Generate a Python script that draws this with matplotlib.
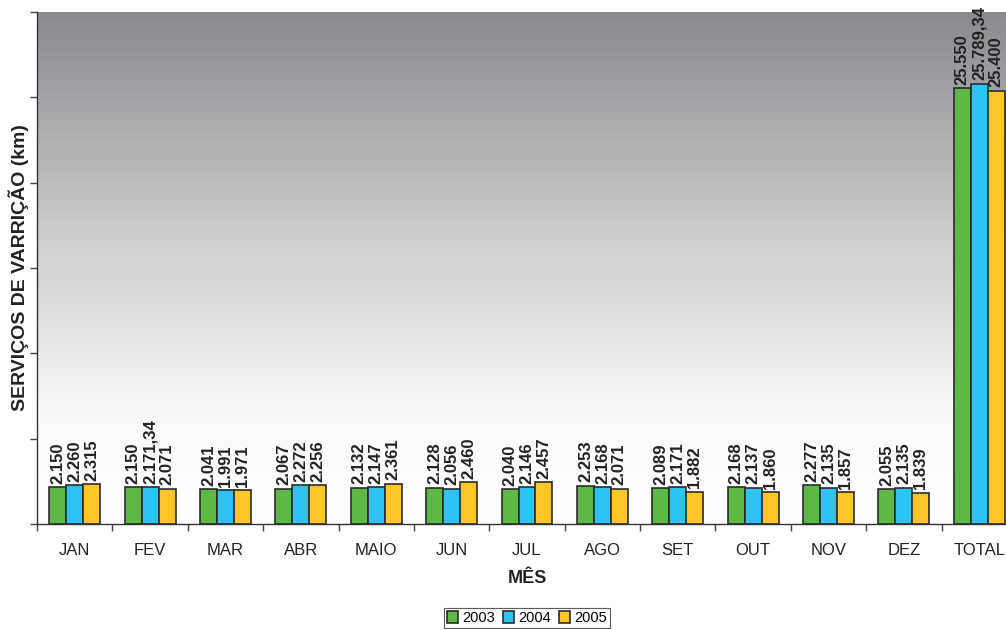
import numpy as np
import matplotlib.pyplot as plt
from matplotlib.colors import LinearSegmentedColormap

plt.rcParams['font.family'] = ['Liberation Sans', 'DejaVu Sans']

# Data (km)
meses = ['JAN', 'FEV', 'MAR', 'ABR', 'MAIO', 'JUN', 'JUL', 'AGO', 'SET', 'OUT', 'NOV', 'DEZ', 'TOTAL']
v2003 = [2150, 2150, 2041, 2067, 2132, 2128, 2040, 2253, 2089, 2168, 2277, 2055, 25550]
v2004 = [2260, 2171.34, 1991, 2272, 2147, 2056, 2146, 2168, 2171, 2137, 2135, 2135, 25789.34]
v2005 = [2315, 2071, 1971, 2256, 2361, 2460, 2457, 2071, 1882, 1860, 1857, 1839, 25400]
anos = ['2003', '2004', '2005']
cores = ['#5cb946', '#2ec4f1', '#ffc629']


def fmt(v):
    # brazilian number format
    if float(v).is_integer():
        s = f"{v:,.0f}"
    else:
        s = f"{v:,.2f}"
    return s.replace(',', 'X').replace('.', ',').replace('X', '.')


fig = plt.figure(figsize=(10.06, 6.30), dpi=100)
ax = fig.add_axes([37 / 1006, 1 - 524 / 630, 980 / 1006, 512 / 630])

n = len(meses)
x = np.arange(n) + 0.5
w = 0.225

# gradient background
grad = np.linspace(0, 1, 256).reshape(-1, 1)
cmap = LinearSegmentedColormap.from_list('bg', [(0, '#ffffff'), (0.2, '#fbfbfb'), (0.55, '#cfcfd1'), (1, '#8a8a8e')])
ax.imshow(grad, aspect='auto', cmap=cmap, extent=[0, n, 0, 30000], origin='lower', zorder=0)

for k, (vals, cor, ano) in enumerate(zip([v2003, v2004, v2005], cores, anos)):
    pos = x + (k - 1) * w
    ax.bar(pos, vals, width=w, color=cor, edgecolor='#2b2b2b', linewidth=1.2, label=ano, zorder=2)
    for p, v in zip(pos, vals):
        ax.text(p, v + 200, fmt(v), rotation=90, ha='center', va='bottom',
                fontsize=12, fontweight='bold', color='#222222', zorder=3)

ax.set_xlim(0, n)
ax.set_ylim(0, 30000)
ax.set_yticks(np.arange(0, 30001, 5000))
ax.set_yticklabels([])
ax.set_xticks(np.arange(0, n + 1))
ax.set_xticklabels([])
ax.set_xticks(x, minor=True)
ax.set_xticklabels(meses, minor=True, fontsize=12, color='#222222')
ax.tick_params(axis='x', which='minor', length=0, pad=14)
ax.tick_params(axis='x', which='major', length=5, width=1, color='#444444')
ax.tick_params(axis='y', length=5, width=1, color='#444444')

for s in ['top', 'right']:
    ax.spines[s].set_visible(False)
for s in ['left', 'bottom']:
    ax.spines[s].set_color('#333333')
    ax.spines[s].set_linewidth(1.0)

ax.set_xlabel('MÊS', fontsize=13, fontweight='bold', color='#222222', labelpad=8)
ax.set_ylabel('SERVIÇOS DE VARRIÇÃO (km)', fontsize=14, fontweight='bold', color='#222222')
ax.yaxis.set_label_coords(-8 / 980, 0.5)

leg = fig.legend(loc='center', bbox_to_anchor=(527 / 1006, 1 - 618 / 630), ncol=3,
                 fontsize=10.5, frameon=True, fancybox=False, edgecolor='#333333',
                 handlelength=0.8, handleheight=0.8, handletextpad=0.3, columnspacing=0.5,
                 borderpad=0.2, borderaxespad=0)
leg.get_frame().set_linewidth(0.8)

fig.savefig('out.png', dpi=100)
